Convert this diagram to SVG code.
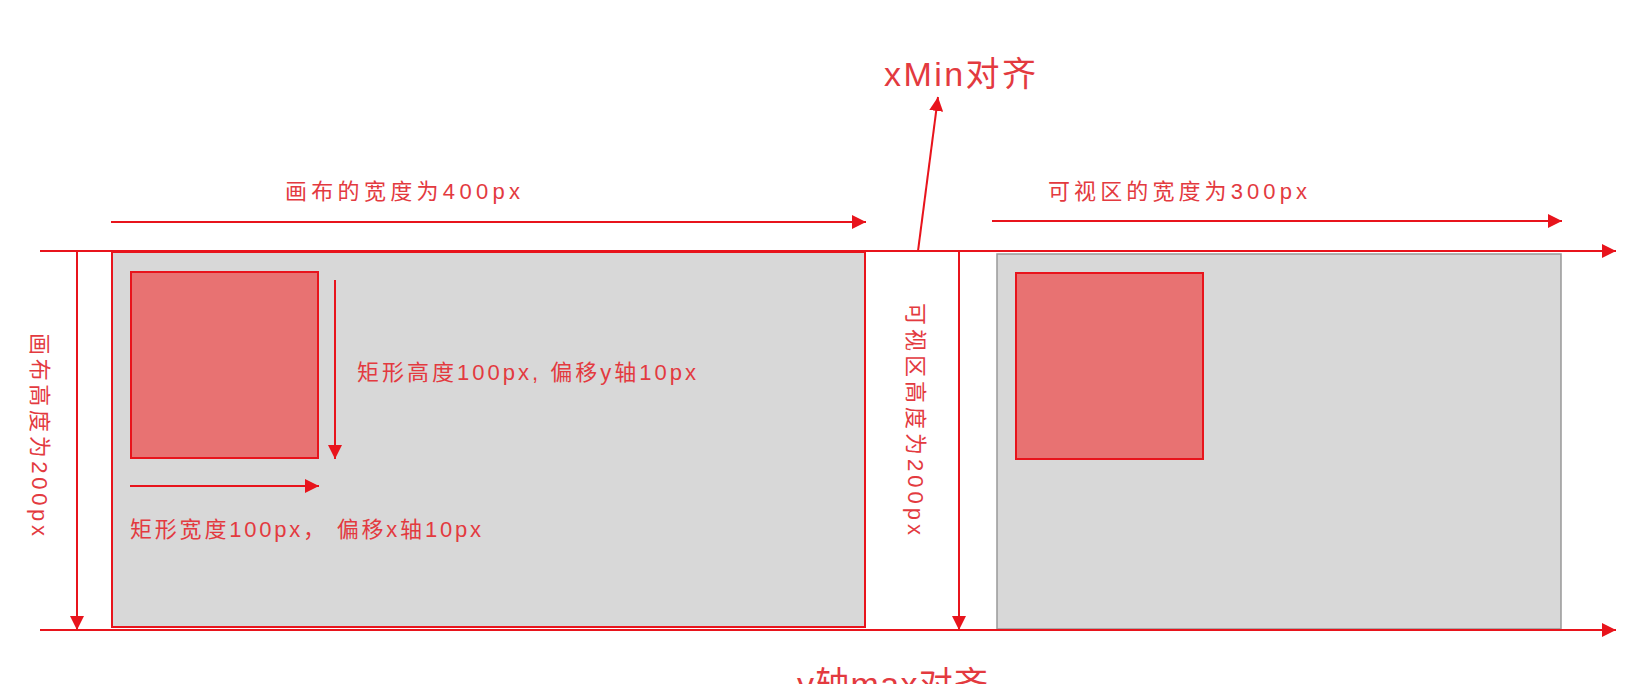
<svg xmlns="http://www.w3.org/2000/svg" width="1640" height="684" viewBox="0 0 1640 684">
<style>
.l{stroke:#e8141c;stroke-width:2;fill:none}
.t{fill:#e33a3f;font-family:"Liberation Sans","Noto Sans CJK SC",sans-serif;font-size:22px}
.b{font-size:34px}
.sq{fill:#e87272;stroke:#e8141c;stroke-width:2}
</style>
<defs>
<marker id="a" viewBox="0 0 10 10" refX="10" refY="5" markerWidth="14" markerHeight="14" markerUnits="userSpaceOnUse" orient="auto"><path d="M0,0L10,5L0,10z" fill="#e8141c"/></marker>
</defs>
<rect width="1640" height="684" fill="#fff"/>
<g id="canvas"><rect x="112" y="252" width="753" height="375" fill="#d8d8d8" stroke="#e8141c" stroke-width="2"/></g>
<g id="viewport"><rect x="997" y="254" width="564" height="375" fill="#d8d8d8" stroke="#999" stroke-width="1.5"/></g>
<g id="rect1"><rect class="sq" x="131" y="272" width="187" height="186"/></g>
<g id="rect2"><rect class="sq" x="1016" y="273" width="187" height="186"/></g>
<g id="connectors">
<line class="l" x1="40" y1="251" x2="1616" y2="251" marker-end="url(#a)"/>
<line class="l" x1="40" y1="630" x2="1616" y2="630" marker-end="url(#a)"/>
<line class="l" x1="111" y1="222" x2="866" y2="222" marker-end="url(#a)"/>
<line class="l" x1="992" y1="221" x2="1562" y2="221" marker-end="url(#a)"/>
<line class="l" x1="77" y1="252" x2="77" y2="630" marker-end="url(#a)"/>
<line class="l" x1="959" y1="252" x2="959" y2="630" marker-end="url(#a)"/>
<line class="l" x1="335" y1="280" x2="335" y2="459" marker-end="url(#a)"/>
<line class="l" x1="130" y1="486" x2="319" y2="486" marker-end="url(#a)"/>
<line class="l" x1="918" y1="251" x2="938" y2="97" marker-end="url(#a)"/>
</g>
<g id="labels">
<text class="t" x="285" y="199" textLength="235">画布的宽度为400px</text>
<text class="t" x="1048" y="199" textLength="259">可视区的宽度为300px</text>
<text class="t" x="357" y="380" textLength="339">矩形高度100px, 偏移y轴10px</text>
<text class="t" x="130" y="537" textLength="351">矩形宽度100px， 偏移x轴10px</text>
<text class="t" transform="translate(32,333) rotate(90)" textLength="203">画布高度为200px</text>
<text class="t" transform="translate(908,303) rotate(90)" textLength="232">可视区高度为200px</text>
<text class="t b" x="884" y="86" textLength="152">xMin对齐</text>
<text class="t b" x="797" y="696" textLength="191">y轴max对齐</text>
</g>
</svg>
